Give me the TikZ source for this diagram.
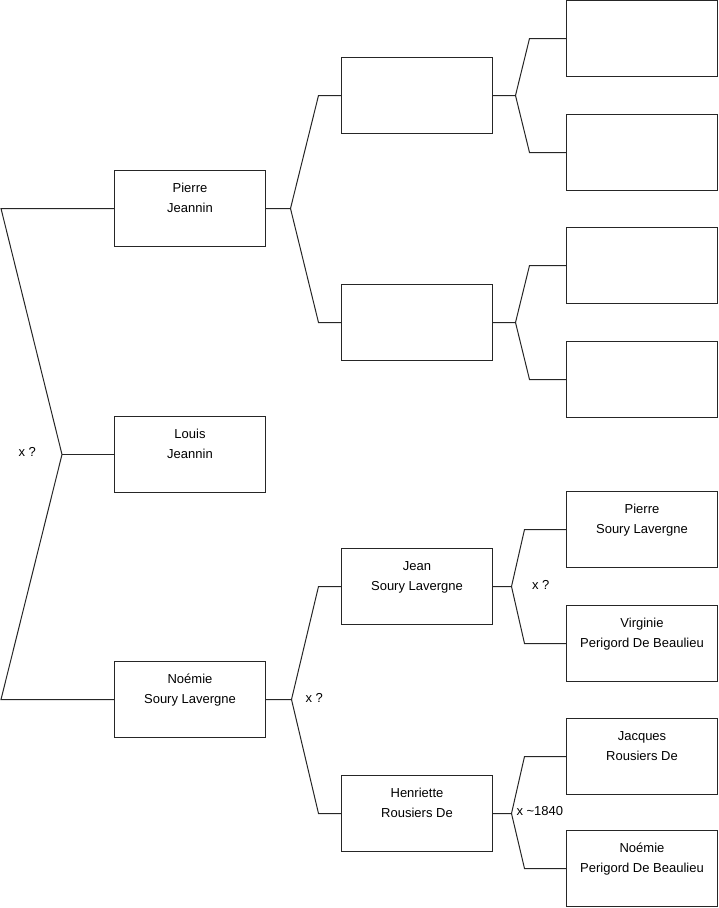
\documentclass[tikz,border=0pt]{standalone}
\usepackage{fontspec}
\setmainfont{Liberation Sans}
\begin{document}
\begin{tikzpicture}[x=1pt, y=-1pt, line width=1pt, black!85,
    pbox/.style={draw, rectangle, minimum width=151pt, minimum height=76pt,
      inner sep=0pt, outer sep=0pt},
    pname/.style={anchor=base, align=center, inner sep=0pt, text=black,
      font=\fontsize{13}{20}\selectfont},
    union/.style={anchor=base west, inner sep=0pt, text=black,
      font=\fontsize{13}{16}\selectfont}]
  \useasboundingbox (0,0) rectangle (719,908);

  % Generation 1: the children
  \node [pbox] (p1) at (190,208.5) {};
  \node [pbox] (p2) at (190,454.5) {};
  \node [pbox] (p3) at (190,699.5) {};

  % Generation 2: the parents
  \node [pbox] (g1) at (417,95.5) {};
  \node [pbox] (g2) at (417,322.5) {};
  \node [pbox] (g3) at (417,586.5) {};
  \node [pbox] (g4) at (417,813.5) {};

  % Generation 3: the grandparents, top to bottom
  \foreach \n/\y in {1/38.5, 2/152.5, 3/265.5, 4/379.5, 5/529.5, 6/643.5, 7/756.5, 8/868.5}
    \node [pbox] (h\n) at (642,\y) {};

  % Names, written in the upper part of each box (base = last line)
  \node [pname] (t-p1) at ([yshift=-41.5pt]p1.north) {Pierre\\Jeannin};
  \node [pname] (t-p2) at ([yshift=-41.5pt]p2.north) {Louis\\Jeannin};
  \node [pname] (t-p3) at ([yshift=-41.5pt]p3.north) {Noémie\\Soury Lavergne};
  \node [pname] (t-g3) at ([yshift=-41.5pt]g3.north) {Jean\\Soury Lavergne};
  \node [pname] (t-g4) at ([yshift=-41.5pt]g4.north) {Henriette\\Rousiers De};
  \node [pname] (t-h5) at ([yshift=-41.5pt]h5.north) {Pierre\\Soury Lavergne};
  \node [pname] (t-h6) at ([yshift=-41.5pt]h6.north) {Virginie\\Perigord De Beaulieu};
  \node [pname] (t-h7) at ([yshift=-41.5pt]h7.north) {Jacques\\Rousiers De};
  \node [pname] (t-h8) at ([yshift=-41.5pt]h8.north) {Noémie\\Perigord De Beaulieu};

  % Siblings joined on the left
  \coordinate (f0) at (62,454.5);
  \coordinate (r1) at (1,208.5);
  \coordinate (r3) at (1,699.5);
  \draw (p1.west) -- (r1) -- (f0) -- (r3) -- (p3.west);
  \draw (f0) -- (p2.west);

  % Each person forks to the two parents
  \foreach \p/\a/\b/\d/\e in {p1/g1/g2/25/23, p3/g3/g4/26/23,
      g1/h1/h2/23/37, g2/h3/h4/23/37, g3/h5/h6/19/42, g4/h7/h8/19/42} {
    \draw (\p.east) -- ++(\d,0) coordinate (fk) -- ([xshift=-\e pt]\a.west) -- (\a.west);
    \draw (fk) -- ([xshift=-\e pt]\b.west) -- (\b.west);
  }

  % Marriages
  \node [union] (m0) at (18,456.7) {x ?};
  \node [union] (m3) at (305,702.3) {x ?};
  \node [union] (mg3) at (531.5,589) {x ?};
  \node [union] (mg4) at (516,815.7) {x \textasciitilde 1840};
\end{tikzpicture}
\end{document}
